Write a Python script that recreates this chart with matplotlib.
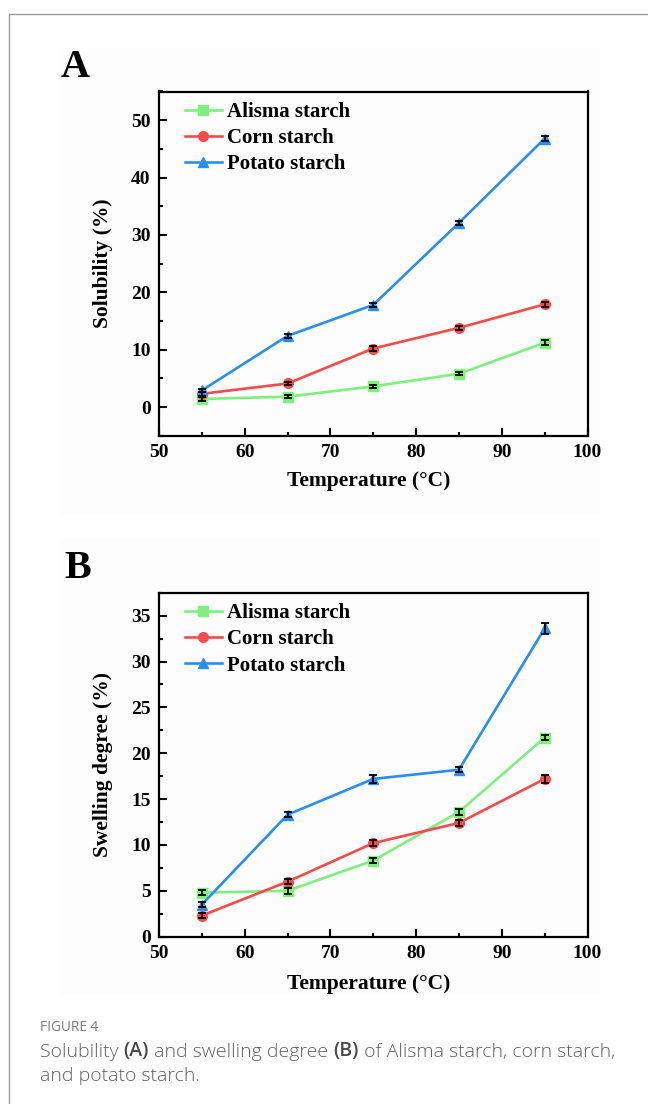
import matplotlib
matplotlib.use("Agg")
import matplotlib.pyplot as plt
from matplotlib.ticker import MultipleLocator
from matplotlib.patches import Rectangle
from matplotlib.lines import Line2D
from matplotlib.text import Annotation

# ---------------- data ----------------
temperature = [55, 65, 75, 85, 95]
series_names = ["Alisma starch", "Corn starch", "Potato starch"]

sol_alisma = [1.4, 1.8, 3.6, 5.8, 11.2]
sol_corn = [2.3, 4.1, 10.2, 13.8, 17.9]
sol_potato = [2.9, 12.4, 17.8, 32.1, 46.8]
sol_alisma_err = [0.3, 0.3, 0.3, 0.3, 0.4]
sol_corn_err = [0.3, 0.3, 0.4, 0.4, 0.4]
sol_potato_err = [0.3, 0.4, 0.4, 0.4, 0.5]

sw_alisma = [4.8, 5.0, 8.3, 13.6, 21.7]
sw_corn = [2.3, 6.0, 10.2, 12.4, 17.2]
sw_potato = [3.5, 13.3, 17.2, 18.2, 33.6]
sw_alisma_err = [0.3, 0.3, 0.3, 0.3, 0.3]
sw_corn_err = [0.3, 0.3, 0.3, 0.3, 0.4]
sw_potato_err = [0.3, 0.3, 0.4, 0.3, 0.6]

colors = ["#7df07d", "#f54a4a", "#2a8df0"]
markers = ["s", "o", "^"]

W, H = 648, 1104
fig = plt.figure(figsize=(W / 100, H / 100), dpi=100)

serif = ["Liberation Serif", "DejaVu Serif"]

def fx(px):
    return px / W

def fy(py):
    return 1 - py / H

# page frame lines
fig.add_artist(Line2D([fx(9), 1.0], [fy(13.5), fy(13.5)], color="#9a9a9a", lw=1.0))
fig.add_artist(Line2D([fx(9), fx(9)], [fy(13.5), 0.0], color="#9a9a9a", lw=1.0))

# faint image backgrounds
fig.add_artist(Rectangle((fx(60), fy(515)), fx(600) - fx(60), fy(48) - fy(515),
                         transform=fig.transFigure, facecolor="#fdfdfd", edgecolor="none", zorder=0))
fig.add_artist(Rectangle((fx(60), fy(995)), fx(600) - fx(60), fy(538) - fy(995),
                         transform=fig.transFigure, facecolor="#fdfdfd", edgecolor="none", zorder=0))


def make_panel(top_px, bottom_px, ys, errs, ylim, ymajor, ylabel, letter, letter_xy, xlabel_y):
    ax = fig.add_axes([fx(159), fy(bottom_px), fx(587.5) - fx(159), fy(top_px) - fy(bottom_px)])
    ax.set_facecolor("none")
    handles = []
    for y, e, c, m, name in zip(ys, errs, colors, markers, series_names):
        ln, = ax.plot(temperature, y, color=c, marker=m, markersize=7, lw=1.9,
                      markeredgecolor=c, label=name, zorder=3)
        ax.errorbar(temperature, y, yerr=e, fmt="none", ecolor="black", elinewidth=1.3,
                    capsize=2.8, capthick=1.3, zorder=4)
        handles.append(ln)
    ax.set_xlim(50, 100)
    ax.set_ylim(*ylim)
    ax.xaxis.set_major_locator(MultipleLocator(10))
    ax.xaxis.set_minor_locator(MultipleLocator(5))
    ax.yaxis.set_major_locator(MultipleLocator(ymajor))
    ax.yaxis.set_minor_locator(MultipleLocator(ymajor / 2))
    ax.tick_params(which="both", direction="in", top=False, right=False, width=1.5,
                   labelsize=14, pad=6)
    ax.tick_params(which="major", length=6)
    ax.tick_params(which="minor", length=3)
    for lab in ax.get_xticklabels() + ax.get_yticklabels():
        lab.set_family(serif)
        lab.set_fontweight("bold")
    for sp in ax.spines.values():
        sp.set_linewidth(1.6)
    ax.set_xlabel("Temperature (°C)", family=serif, fontweight="bold", fontsize=15.5)
    ax.set_ylabel(ylabel, family=serif, fontweight="bold", fontsize=15.5)
    ax.xaxis.set_label_coords(0.49, (fy(xlabel_y) - fy(bottom_px)) / (fy(top_px) - fy(bottom_px)))
    ax.yaxis.set_label_coords((fx(103) - fx(159)) / (fx(587.5) - fx(159)), 0.5)
    ax.xaxis.label.set_va("center")
    ax.yaxis.label.set_va("center")
    ax.legend(handles=handles, loc="upper left", frameon=False,
              prop={"family": serif, "weight": "bold", "size": 15},
              handlelength=1.8, handletextpad=0.25, labelspacing=0.3,
              borderaxespad=0.3, bbox_to_anchor=(0.026, 1.012))
    fig.text(fx(letter_xy[0]), fy(letter_xy[1]), letter, family=serif, fontweight="bold",
             fontsize=29, ha="left", va="baseline")
    return ax


make_panel(91.5, 435.7, [sol_alisma, sol_corn, sol_potato],
           [sol_alisma_err, sol_corn_err, sol_potato_err], (-5, 55), 10,
           "Solubility (%)", "A", (61, 77), 481)
make_panel(592.7, 936.7, [sw_alisma, sw_corn, sw_potato],
           [sw_alisma_err, sw_corn_err, sw_potato_err], (0, 37.5), 5,
           "Swelling degree (%)", "B", (64, 578), 984)

# caption
sans = ["Open Sans", "DejaVu Sans"]
fig.text(fx(40), fy(1031), "FIGURE 4", family=sans, fontsize=9.8, color="#7a7a7a", va="baseline")


def chain(x_px, y_px, pieces, size):
    prev = None
    for txt, bold, col in pieces:
        kw = dict(family=sans, fontsize=size, color=col,
                  fontweight="semibold" if bold else "light")
        if prev is None:
            prev = fig.text(fx(x_px), fy(y_px), txt, va="bottom", ha="left", **kw)
        else:
            prev = fig.add_artist(Annotation(txt, xy=(1, 0), xycoords=prev,
                                             va="bottom", ha="left", **kw))
    return prev

g = "#5f5f5f"
gb = "#4a4a4a"
chain(40, 1061, [("Solubility ", False, g), ("(A)", True, gb),
                 (" and swelling degree ", False, g), ("(B)", True, gb),
                 (" of Alisma starch, corn starch,", False, g)], 14)
chain(40, 1085, [("and potato starch.", False, g)], 14)

fig.savefig("out.png", dpi=100)
